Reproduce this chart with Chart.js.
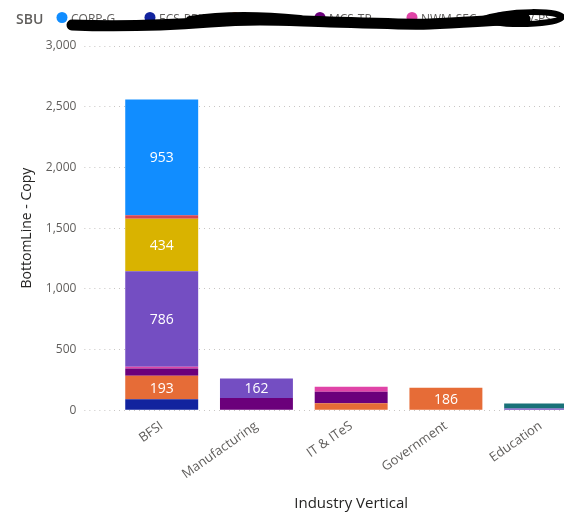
<!DOCTYPE html>
<html>
<head>
<meta charset="utf-8">
<script src="https://cdn.jsdelivr.net/npm/chart.js@4.4.0/dist/chart.umd.min.js"></script>
<style>
html,body{margin:0;padding:0;background:#fff;overflow:hidden;}
#wrap{width:600px;height:513px;}
</style>
</head>
<body>
<div id="wrap"><canvas id="mycanvas" width="600" height="513"></canvas></div>
<script>
// ---- data ----
const categories=["BFSI","Manufacturing","IT & ITeS","Government","Education"];
const yTicks=[0,500,1000,1500,2000,2500,3000];
// SBU names in legend order (labels are mostly hidden in the reference)
const sbuNames=["CORP-G","ECS-PRIME","ESS","MCS-TP","NWM-SEC","GOV-PS","EDU-NE","ITES-PR","INFRA-SVC"];
const s1=[953,null,null,null,null];
const s2=[90,null,null,null,null];
const s3=[193,null,58,186,null];
const s4=[60,100,95,null,null];
const s5=[15,null,40,null,null];
const s6=[786,162,null,null,15];
const s7=[434,null,null,null,null];
const s8=[28,null,null,null,null];
const s9=[null,null,null,null,40];
const seriesValues=[s1,s2,s3,s4,s5,s6,s7,s8,s9];

// ---- styles ----
const colors=["#118DFF","#12239E","#E66C37","#6B007B","#E044A7","#744EC2","#D9B300","#D64550","#197278"];
const stackOrder=[1,2,3,4,5,6,7,8,0]; // bottom -> top
const legendX=[62,150,235,320,412,500,590,680,770];
const FONT='"Segoe UI","Open Sans",sans-serif';

const datasets=stackOrder.map(function(i){
    return {
        label:sbuNames[i],
        data:seriesValues[i],
        backgroundColor:colors[i],
        borderWidth:0,
        stack:"sbu",
        barPercentage:0.77,
        categoryPercentage:1.0
    };
});

//-----------------------------------------------------------------------------------------

const valueLabels={
    id:"valueLabels",
    afterDatasetsDraw(chart){
        const ctx=chart.ctx;
        ctx.save();
        ctx.font="14px "+FONT;
        ctx.fillStyle="#ffffff";
        ctx.textAlign="center";
        ctx.textBaseline="middle";
        chart.data.datasets.forEach(function(ds,di){
            const meta=chart.getDatasetMeta(di);
            meta.data.forEach(function(bar,i){
                const v=ds.data[i];
                if(v==null) return;
                if(Math.abs(bar.base-bar.y)<18) return;
                ctx.fillText(String(v),bar.x,(bar.y+bar.base)/2+1);
            });
        });
        ctx.restore();
    }
};

const sbuLegend={
    id:"sbuLegend",
    afterDraw(chart){
        const ctx=chart.ctx;
        ctx.save();
        ctx.textBaseline="middle";
        ctx.font="600 14px "+FONT;
        ctx.fillStyle="#605E5C";
        ctx.fillText("SBU",16,20);
        ctx.font="12px "+FONT;
        sbuNames.forEach(function(name,i){
            const x=legendX[i];
            ctx.fillStyle=colors[i];
            ctx.beginPath();
            ctx.arc(x,17.5,5.5,0,Math.PI*2);
            ctx.fill();
            ctx.fillStyle="#605E5C";
            ctx.fillText(name,x+9,20);
        });
        // redaction scribble over the legend labels
        ctx.strokeStyle="#000";
        ctx.lineCap="round";
        ctx.lineJoin="round";
        ctx.lineWidth=11;
        ctx.beginPath();
        ctx.moveTo(72,25);
        ctx.bezierCurveTo(120,27,170,25,210,22);
        ctx.bezierCurveTo(260,18,290,21,330,22);
        ctx.bezierCurveTo(380,23,400,25,430,24);
        ctx.bezierCurveTo(470,22,500,20,525,19);
        ctx.stroke();
        ctx.lineWidth=8;
        ctx.beginPath();
        ctx.moveTo(190,20);
        ctx.bezierCurveTo(220,15,260,15,300,19);
        ctx.stroke();
        ctx.lineWidth=6;
        ctx.beginPath();
        ctx.moveTo(480,20);
        ctx.bezierCurveTo(510,9,560,11,562,17);
        ctx.bezierCurveTo(560,24,515,26,495,22);
        ctx.stroke();
        ctx.restore();
    }
};

//-----------------------------------------------------------------------------------------

function drawchart(){
    const canvas=document.getElementById("mycanvas");
    const ctx=canvas.getContext("2d");
    new Chart(ctx,{
        type:"bar",
        data:{labels:categories,datasets:datasets},
        options:{
            responsive:false,
            animation:false,
            layout:{padding:{top:46,left:15,right:12,bottom:0}},
            plugins:{legend:{display:false},tooltip:{enabled:false}},
            scales:{
                x:{
                    stacked:true,
                    grid:{display:false},
                    border:{display:false},
                    ticks:{color:"#605E5C",font:{family:FONT,size:13},maxRotation:35,minRotation:35,padding:0},
                    title:{display:true,text:"Industry Vertical",color:"#252423",font:{family:FONT,size:15},padding:{top:13,bottom:0}}
                },
                y:{
                    stacked:true,
                    min:yTicks[0],
                    max:yTicks[yTicks.length-1],
                    afterBuildTicks:function(axis){axis.ticks=yTicks.map(function(v){return {value:v};});},
                    ticks:{color:"#605E5C",font:{family:FONT,size:12},padding:8,
                        callback:function(v){return v.toLocaleString("en-US");}},
                    grid:{color:"#C8C6C4",tickColor:"#C8C6C4",tickLength:30,tickBorderDash:[1,4]},
                    border:{display:false,dash:[1,4]},
                    title:{display:true,text:"BottomLine - Copy",color:"#252423",font:{family:FONT,size:14},padding:{bottom:2}}
                }
            }
        },
        plugins:[valueLabels,sbuLegend]
    });
}

drawchart();
</script>
</body>
</html>
